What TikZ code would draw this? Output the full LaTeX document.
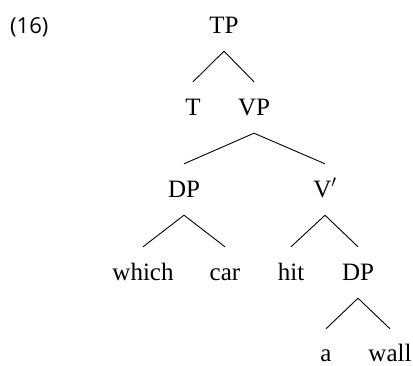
\documentclass[tikz,border=0pt]{standalone}
\usepackage{fontspec}
\setmainfont{Liberation Serif}
\newfontfamily\exnumfont{Open Sans}
\begin{document}
\begin{tikzpicture}[x=1pt, y=-1pt,
    cat/.style={anchor=base, inner xsep=0pt, inner ysep=16pt, text height=17pt, text depth=2pt, font=\fontsize{25}{30}\selectfont},
    leaf/.style={cat, inner ysep=0pt, text height=32pt, text depth=0pt},
    branch/.style={line width=0.9pt}]
    \useasboundingbox (0,0) rectangle (413,365);
    % example number
    \node[anchor=base west, inner sep=0pt, font=\exnumfont\fontsize{22}{26}\selectfont] (exnum) at (10,33) {(16)};
    
    % categories
    \node[cat] (tp) at (224,33) {TP};
    \node[cat] (t) at (193,115) {T};
    \node[cat] (vp) at (254,115) {VP};
    \node[cat] (dp) at (184,197) {DP};
    \node[cat] (vbar) at (325,197) {V$'$};
    \node[cat] (which) at (143,280) {which};
    \node[cat] (car) at (225,280) {car};
    \node[cat] (hit) at (291,280) {hit};
    \node[cat] (obj) at (358,280) {DP};
    \node[leaf] (det) at (326,361) {a};
    \node[leaf] (wall) at (390,361) {wall};
    
    % branches
    \draw[branch] (tp.south) -- (t.north);
    \draw[branch] (tp.south) -- (vp.north);
    \draw[branch] (vp.south) -- (dp.north);
    \draw[branch] (vp.south) -- (vbar.north);
    \draw[branch] (dp.south) -- (which.north);
    \draw[branch] (dp.south) -- (car.north);
    \draw[branch] (vbar.south) -- (hit.north);
    \draw[branch] (vbar.south) -- (obj.north);
    \draw[branch] (obj.south) -- (det.north);
    \draw[branch] (obj.south) -- (wall.north);
\end{tikzpicture}
\end{document}
